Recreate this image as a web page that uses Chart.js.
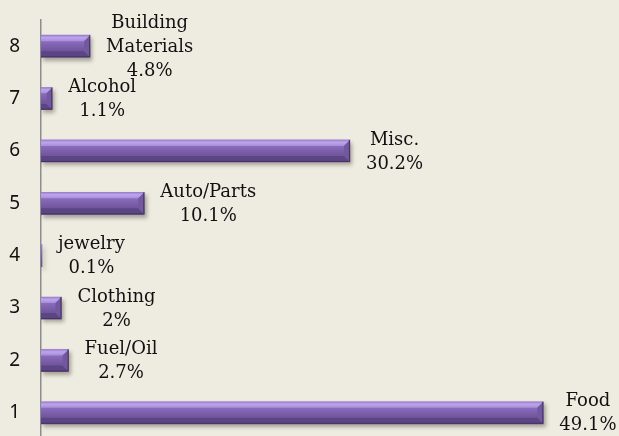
<!DOCTYPE html>
<html>
<head>
<meta charset="utf-8">
<script src="https://cdn.jsdelivr.net/npm/chart.js@4/dist/chart.umd.min.js"></script>
<style>
  html, body { margin: 0; padding: 0; overflow: hidden; background: #EEECE1; }
  canvas { display: block; }
</style>
</head>
<body>
<canvas id="shareChart" width="619" height="440"></canvas>
<script>
// rank shown on the axis, bottom to top
const ranks = ["1", "2", "3", "4", "5", "6", "7", "8"];
const categories = ["Food", "Fuel/Oil", "Clothing", "jewelry", "Auto/Parts", "Misc.", "Alcohol", "Building\nMaterials"];
const shares = [49.1, 2.7, 2, 0.1, 10.1, 30.2, 1.1, 4.8];

const labelFont = "18px 'DejaVu Serif'";

// bevelled bar look + shadow, like the office chart
const bevelPlugin = {
    id: "bevel",
    beforeDatasetDraw(chart) {
        const ctx = chart.ctx;
        ctx.save();
        ctx.shadowColor = "rgba(60,50,40,0.4)";
        ctx.shadowOffsetY = 3;
        ctx.shadowOffsetX = 2;
        ctx.shadowBlur = 4;
    },
    afterDatasetDraw(chart) {
        chart.ctx.restore();
    },
    afterDatasetsDraw(chart) {
        const ctx = chart.ctx;
        const meta = chart.getDatasetMeta(0);
        meta.data.forEach((bar) => {
            const { x, y, base, height } = bar.getProps(["x", "y", "base", "height"], true);
            if (x - base < 2) return; // too thin to show a bevel
            const top = y - height / 2;
            const bot = y + height / 2;
            const b = Math.min(6, (x - base) / 2, height / 2);
            const poly = (pts, color) => {
                ctx.beginPath();
                ctx.moveTo(pts[0][0], pts[0][1]);
                pts.slice(1).forEach((p) => ctx.lineTo(p[0], p[1]));
                ctx.closePath();
                ctx.fillStyle = color;
                ctx.fill();
            };
            ctx.save();
            const tg = ctx.createLinearGradient(0, top, 0, top + b);
            tg.addColorStop(0, "#9a7fce");
            tg.addColorStop(0.4, "#bda5ea");
            tg.addColorStop(1, "#a88ddb");
            poly([[base, top], [x, top], [x - b, top + b], [base, top + b]], tg);
            poly([[base, bot], [x, bot], [x - b, bot - b], [base, bot - b]], "#5c4585");
            poly([[x, top], [x, bot], [x - b, bot - b], [x - b, top + b]], "#72589f");
            // dark rim on right and bottom
            ctx.strokeStyle = "#45345f";
            ctx.lineWidth = 1;
            ctx.beginPath();
            ctx.moveTo(x - 0.5, top);
            ctx.lineTo(x - 0.5, bot - 0.5);
            ctx.lineTo(base, bot - 0.5);
            ctx.stroke();
            ctx.restore();
        });
    },
};

// data labels: name + share, centred block right of bar end
const labelPlugin = {
    id: "barLabels",
    afterDraw(chart) {
        const ctx = chart.ctx;
        const meta = chart.getDatasetMeta(0);
        ctx.save();
        ctx.font = labelFont;
        ctx.fillStyle = "#111";
        ctx.textAlign = "center";
        ctx.textBaseline = "middle";
        meta.data.forEach((bar, i) => {
            const lines = categories[i].split("\n").concat([shares[i] + "%"]);
            const maxW = Math.max(...lines.map((l) => ctx.measureText(l).width));
            const cx = bar.x + 16 + maxW / 2;
            const lh = 24;
            const y0 = bar.y - (lh * (lines.length - 1)) / 2 + 1;
            lines.forEach((l, k) => ctx.fillText(l, cx, y0 + k * lh));
        });
        ctx.restore();
    },
};

const ctx = document.getElementById("shareChart").getContext("2d");

new Chart(ctx, {
    type: "bar",
    data: {
        labels: ranks,
        datasets: [
            {
                label: "share",
                data: shares,
                barThickness: 22,
                borderWidth: 0,
                backgroundColor: (c) => {
                    const chart = c.chart;
                    const { chartArea } = chart;
                    if (!chartArea || c.dataIndex === undefined) return "#7d62a8";
                    const yc = chart.scales.y.getPixelForValue(c.dataIndex);
                    const g = chart.ctx.createLinearGradient(0, yc - 11, 0, yc + 11);
                    g.addColorStop(0, "#9a7dcc");
                    g.addColorStop(0.35, "#8668b8");
                    g.addColorStop(0.65, "#73589f");
                    g.addColorStop(1, "#664d90");
                    return g;
                },
            },
        ],
    },
    options: {
        responsive: false,
        animation: false,
        indexAxis: "y",
        layout: {
            padding: { top: 20, bottom: 1, left: 0, right: 0 },
        },
        scales: {
            x: {
                display: false,
                min: 0,
                max: 56.5,
            },
            y: {
                reverse: true,
                afterFit: (scale) => {
                    scale.width = 41;
                    scale.paddingTop = 0;
                    scale.paddingBottom = 0;
                },
                grid: { display: false, drawTicks: false },
                border: { display: true, color: "#8c8c8c", width: 1.5 },
                ticks: {
                    padding: 21,
                    color: "#111",
                    font: { family: "'Noto Sans'", size: 19 },
                },
            },
        },
        plugins: {
            legend: { display: false },
            tooltip: { enabled: false },
        },
    },
    plugins: [bevelPlugin, labelPlugin],
});
</script>
</body>
</html>
